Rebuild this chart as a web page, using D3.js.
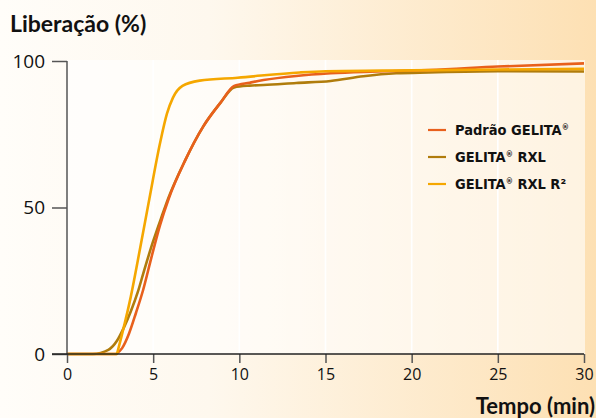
<!DOCTYPE html>
<html><head><meta charset="utf-8">
<script src="https://cdn.jsdelivr.net/npm/d3@7"></script>
<style>html,body{margin:0;padding:0;}svg{display:block;}</style>
</head><body>
<svg id="c" width="596" height="418"></svg>
<script>
const xTicks = [0,5,10,15,20,25,30];
const yTicks = [0,50,100];
const seriesNames = ["Padrão GELITA", "GELITA RXL", "GELITA RXL R²"];
const seriesColors = ["#e8601c", "#b07c0c", "#f5a700"];
// release onset (min) where the curve leaves 0 with a sharp corner (null = smooth foot)
const onsets = [2.85, null, 2.9];
const padraoT = [0,2.85,3.2,3.6,4.0,4.4,4.9,5.4,5.9,6.85,7.9,8.9,9.7,10.6,11.4,13.3,15.3,17.2,19.1,21,25,30];
const padraoV = [0,0,2,7,14,21.5,33,44,53,66,77.6,85.7,91.5,92.6,93.5,94.9,95.8,96.3,96.6,96.9,98.1,99.2];
const rxlT = [0,1.5,2.4,2.9,3.3,3.7,4.1,4.5,5.0,5.5,5.9,6.85,7.9,8.9,9.7,10.6,11.4,13.3,15.3,17.2,19.1,21,25,30];
const rxlV = [0,0,1.4,4.5,9,14.5,21,29,38.5,47,53.5,66,77.6,85.7,91,91.6,91.8,92.5,93.2,94.8,95.8,96.1,96.5,96.4];
const r2T = [0,2.9,3.7,4.24,4.78,5.4,5.8,6.15,6.7,7.7,9.9,13.5,15,20,25,30];
const r2V = [0,0,19.5,36,53,72,82,87.5,91.5,93.3,94.3,96.1,96.5,96.8,97.1,97.3];
const allT = [padraoT, rxlT, r2T], allV = [padraoV, rxlV, r2V];

const svg = d3.select("#c");
const defs = svg.append("defs");
const g1 = defs.append("linearGradient").attr("id","bg").attr("x1","0").attr("x2","1").attr("y1","0").attr("y2","0");
g1.append("stop").attr("offset","0").attr("stop-color","#fffdf9");
g1.append("stop").attr("offset","0.35").attr("stop-color","#fef8ee");
g1.append("stop").attr("offset","1").attr("stop-color","#fde0b3");
svg.append("rect").attr("width",596).attr("height",418).attr("fill","url(#bg)");

const x = d3.scaleLinear().domain([0,30]).range([67,584]);
const y = d3.scaleLinear().domain([0,100]).range([354,61]);

svg.append("rect").attr("x",x(0)).attr("y",60).attr("width",x(30)-x(0)+1).attr("height",y(0)-60)
  .attr("fill","#ffffff").attr("opacity",0.6);

// grid
svg.append("g").selectAll("line").data(xTicks.filter(d=>d>0&&d<30)).join("line")
  .attr("x1",d=>x(d)).attr("x2",d=>x(d)).attr("y1",60).attr("y2",y(0))
  .attr("stroke","#ffffff").attr("stroke-width",1.6);

// lines
const line = d3.line().x(d=>x(d[0])).y(d=>y(d[1])).curve(d3.curveMonotoneX);
const lineLin = d3.line().x(d=>x(d[0])).y(d=>y(d[1]));
[1,0,2].forEach(i=>{
  const pts = allT[i].map((t,j)=>[t, allV[i][j]]);
  let d;
  if(onsets[i]!==null){
    const flat = pts.filter(p=>p[0]<=onsets[i]);
    const rise = pts.filter(p=>p[0]>=onsets[i]);
    d = lineLin(flat) + line(rise).replace(/^M/,"L");
  } else d = line(pts);
  svg.append("path").attr("d",d).attr("fill","none")
    .attr("stroke",seriesColors[i]).attr("stroke-width",2.6).attr("stroke-linejoin","round");
});

// axes
const axCol = "#555";
const yAx = svg.append("g").attr("transform",`translate(${x(0)},0)`)
  .call(d3.axisLeft(y).tickValues(yTicks).tickSize(15).tickPadding(7));
yAx.select(".domain").remove();
yAx.append("line").attr("x1",0).attr("x2",0).attr("y1",y(100)).attr("y2",y(0)).attr("stroke",axCol).attr("stroke-width",1.5);
yAx.selectAll(".tick line").attr("stroke",axCol).attr("stroke-width",1.5);
yAx.selectAll(".tick text").attr("fill","#111").style("font-family","'Open Sans', sans-serif").style("font-size","19px");

const xAx = svg.append("g").attr("transform",`translate(0,${y(0)})`)
  .call(d3.axisBottom(x).tickValues(xTicks).tickSize(9).tickPadding(6));
xAx.select(".domain").remove();
xAx.append("line").attr("x1",52).attr("x2",x(30)).attr("y1",0).attr("y2",0).attr("stroke","#222").attr("stroke-width",1.4);
xAx.selectAll(".tick line").attr("stroke",axCol).attr("stroke-width",1.5);
xAx.selectAll(".tick text").attr("fill","#111").style("font-family","'Open Sans', sans-serif").style("font-size","16px");

svg.append("text").attr("x",10).attr("y",32).text("Liberação (%)")
  .style("font-family","Lato, sans-serif").style("font-weight","700").style("font-size","23px").attr("fill","#111");
svg.append("text").attr("x",595).attr("y",414).attr("text-anchor","end").text("Tempo (min)")
  .style("font-family","Lato, sans-serif").style("font-weight","700").style("font-size","22px").attr("fill","#111");

// legend
const leg = svg.append("g");
const legY = [130,157,184];
seriesNames.forEach((n,i)=>{
  leg.append("line").attr("x1",428).attr("x2",446).attr("y1",legY[i]).attr("y2",legY[i])
    .attr("stroke",seriesColors[i]).attr("stroke-width",2.2);
  const t = leg.append("text").attr("x",455).attr("y",legY[i]+5)
    .style("font-family","'Liberation Sans Narrow','DejaVu Sans Condensed',sans-serif").style("font-weight","700").style("font-size","14.5px").attr("fill","#111");
  if(i===0){
    t.append("tspan").text("Padrão GELITA");
    t.append("tspan").text("®").attr("dy",-5).style("font-size","8px");
  } else {
    t.append("tspan").text("GELITA");
    t.append("tspan").text("®").attr("dy",-5).style("font-size","8px");
    t.append("tspan").text(i===1?" RXL":" RXL R²").attr("dy",5);
  }
});
</script>
</body></html>
